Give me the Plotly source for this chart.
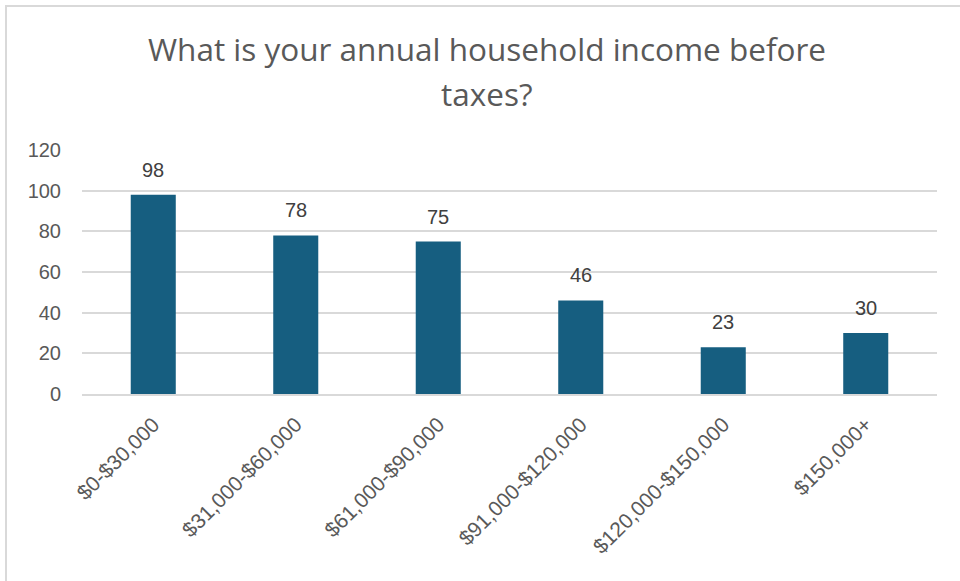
import plotly.graph_objects as go

# Survey responses by income bracket
categories = ["$0-$30,000", "$31,000-$60,000", "$61,000-$90,000",
              "$91,000-$120,000", "$120,000-$150,000", "$150,000+"]
counts = [98, 78, 75, 46, 23, 30]
y_ticks = [0, 20, 40, 60, 80, 100, 120]
title_lines = ["What is your annual household income before", "taxes?"]

BAR_COLOR = "#165E80"
GRID_COLOR = "#D9D9D9"
TEXT_COLOR = "#595959"
TITLE_FONT = "Open Sans, Lato, sans-serif"
LABEL_FONT = "Liberation Sans, Arial, sans-serif"

# plot-area geometry in pixels (used to place the frame and title)
W, H = 960, 581
L, R, T, B = 82, 23, 150, 187
pw, ph = W - L - R, H - T - B

def px_to_paper(x, y):
    return (x - L) / pw, (H - B - y) / ph

fig = go.Figure()
fig.add_trace(go.Bar(
    x=categories, y=counts,
    marker=dict(color=BAR_COLOR, line=dict(width=0)),
    hoverinfo="x+y",
))

# value labels above each bar
for c, v in zip(categories, counts):
    fig.add_annotation(x=c, y=v, text=str(v), showarrow=False,
                       yanchor="bottom", yshift=12,
                       font=dict(family=LABEL_FONT, size=20, color="#404040"))

# two-line chart title
for line, py in zip(title_lines, [48, 93]):
    tx, ty = px_to_paper(487, py)
    fig.add_annotation(xref="paper", yref="paper", x=tx, y=ty,
                       text=line, showarrow=False,
                       xanchor="center", yanchor="middle",
                       font=dict(family=TITLE_FONT, size=31.5, color=TEXT_COLOR))

# outer chart frame
fx0, fy0 = px_to_paper(6, 6)
fx1, fy1 = px_to_paper(970, 600)
fig.add_shape(type="rect", xref="paper", yref="paper",
              x0=fx0, y0=fy1, x1=fx1, y1=fy0,
              line=dict(color=GRID_COLOR, width=2), layer="below")

fig.update_layout(
    width=W, height=H,
    margin=dict(l=L, r=R, t=T, b=B),
    paper_bgcolor="white", plot_bgcolor="white",
    bargap=0.684,
    showlegend=False,
    font=dict(family=LABEL_FONT, color=TEXT_COLOR),
)
fig.update_xaxes(
    tickangle=-45, tickfont=dict(family=LABEL_FONT, size=21, color=TEXT_COLOR),
    showline=True, linecolor=GRID_COLOR, linewidth=2,
    showgrid=False, ticks="", ticklabelstandoff=8,
)
fig.update_yaxes(
    range=[0, 120], tickvals=y_ticks,
    tickfont=dict(family=LABEL_FONT, size=20, color=TEXT_COLOR),
    showgrid=True, gridcolor=GRID_COLOR, gridwidth=2,
    zeroline=False, showline=False, ticks="", ticklabelstandoff=20,
)

fig.write_html("out.html")
